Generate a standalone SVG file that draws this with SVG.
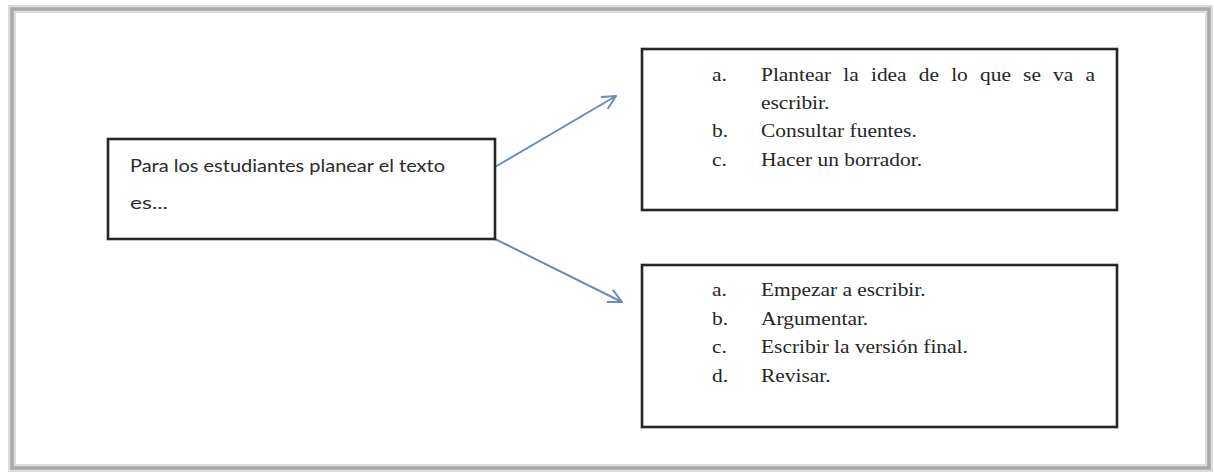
<svg xmlns="http://www.w3.org/2000/svg" width="1214" height="472" viewBox="0 0 1214 472">
  <style>
    .box { fill: #ffffff; stroke: #262626; stroke-width: 2.6; }
    .sans { font-family: Lato, "Liberation Sans", sans-serif; font-size: 18px; fill: #2a2a2a; }
    .serif { font-family: "Liberation Serif", "Times New Roman", serif; font-size: 18px; fill: #262626; }
    .conn { fill: none; stroke: #6a8cc0; stroke-width: 2; }
  </style>
  <defs>
    <marker id="open-arrow" viewBox="0 0 16 16" refX="14" refY="8" markerWidth="16" markerHeight="16" markerUnits="userSpaceOnUse" orient="auto">
      <polyline points="1,1.5 14,8 1,14.5" fill="none" stroke="#6a8cc0" stroke-width="2" stroke-linecap="round" stroke-linejoin="round"/>
    </marker>
  </defs>

  <rect x="0" y="0" width="1214" height="472" fill="#ffffff"/>

  <g id="frame">
    <rect x="12" y="9" width="1197" height="459" fill="none" stroke="#dcdcdc" stroke-width="8"/>
    <rect x="12" y="9" width="1197" height="459" fill="none" stroke="#a9a9a9" stroke-width="3.5"/>
  </g>

  <g id="connectors">
    <line class="conn" x1="495" y1="167" x2="616" y2="96" marker-end="url(#open-arrow)"/>
    <line class="conn" x1="495" y1="239" x2="622" y2="302" marker-end="url(#open-arrow)"/>
  </g>

  <g id="node-planear">
    <rect class="box" x="108" y="139" width="387" height="100"/>
    <text class="sans" x="130" y="172" textLength="315" lengthAdjust="spacingAndGlyphs">Para los estudiantes planear el texto</text>
    <text class="sans" x="130" y="209" textLength="38" lengthAdjust="spacingAndGlyphs">es...</text>
  </g>

  <g id="node-opcion-1">
    <rect class="box" x="642" y="49" width="475" height="161"/>
    <g transform="translate(712 0) scale(1.19 1)">
      <text class="serif" x="0" y="81">a.</text>
      <text class="serif" y="81"><tspan x="41.2">Plantear</tspan><tspan x="110.4">la</tspan><tspan x="133.6">idea</tspan><tspan x="173.8">de</tspan><tspan x="201">lo</tspan><tspan x="225.2">que</tspan><tspan x="261.4">se</tspan><tspan x="286.6">va</tspan><tspan x="313.8">a</tspan></text>
      <text class="serif" x="41.2" y="109">escribir.</text>
      <text class="serif" x="0" y="137.5">b.</text>
      <text class="serif" x="41.2" y="137.5">Consultar fuentes.</text>
      <text class="serif" x="0" y="166">c.</text>
      <text class="serif" x="41.2" y="166">Hacer un borrador.</text>
    </g>
  </g>

  <g id="node-opcion-2">
    <rect class="box" x="642" y="265" width="475" height="162"/>
    <g transform="translate(712 0) scale(1.19 1)">
      <text class="serif" x="0" y="296.5">a.</text>
      <text class="serif" x="41.2" y="296.5">Empezar a escribir.</text>
      <text class="serif" x="0" y="325">b.</text>
      <text class="serif" x="41.2" y="325">Argumentar.</text>
      <text class="serif" x="0" y="353.5">c.</text>
      <text class="serif" x="41.2" y="353.5">Escribir la versión final.</text>
      <text class="serif" x="0" y="382">d.</text>
      <text class="serif" x="41.2" y="382">Revisar.</text>
    </g>
  </g>
</svg>
